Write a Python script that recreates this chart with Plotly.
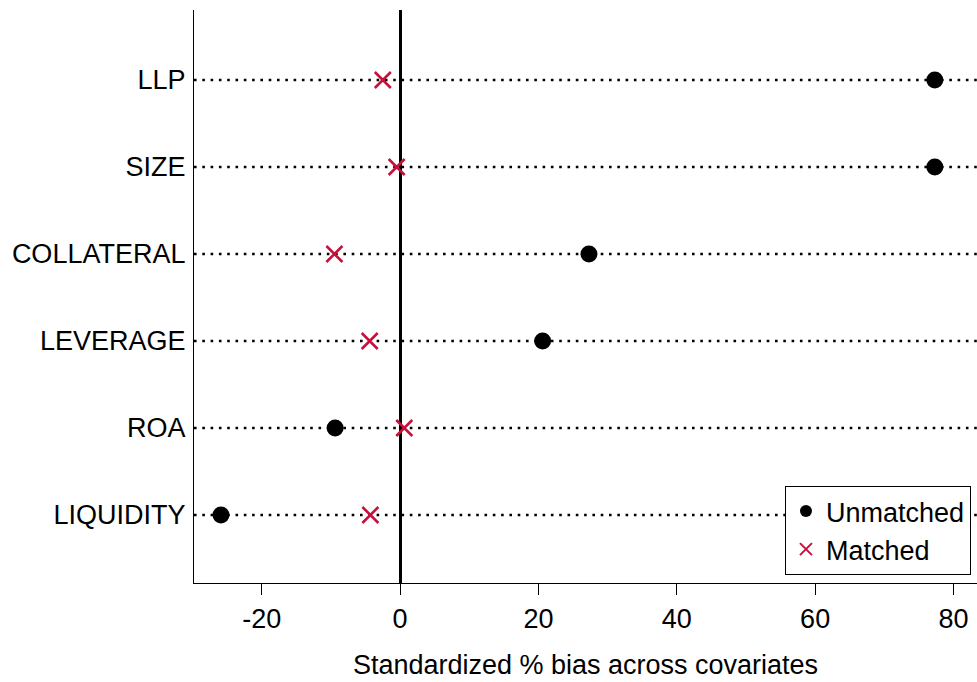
import plotly.graph_objects as go

covariates = ["LIQUIDITY", "ROA", "LEVERAGE", "COLLATERAL", "SIZE", "LLP"]
row_pos = [1, 2, 3, 4, 5, 6]
unmatched = [-25.9, -9.4, 20.6, 27.3, 77.3, 77.3]
matched = [-4.3, 0.6, -4.4, -9.5, -0.5, -2.5]
x_ticks = [-20, 0, 20, 40, 60, 80]
x_tick_labels = ["-20", "0", "20", "40", "60", "80"]

FONT = "Liberation Sans, Arial, sans-serif"
RED = "#C8103C"

fig = go.Figure()

for y in row_pos:
    fig.add_shape(type="line", xref="paper", x0=0, x1=1, yref="y", y0=y, y1=y,
                  line=dict(color="black", width=2.6, dash="2.6px,5.7px"), layer="below")

fig.add_trace(go.Scatter(x=unmatched, y=row_pos, mode="markers", name="Unmatched",
                         marker=dict(symbol="circle", size=17, color="black")))
fig.add_trace(go.Scatter(x=matched, y=row_pos, mode="markers", name="Matched",
                         marker=dict(symbol="x-thin", size=16, color=RED,
                                     line=dict(color=RED, width=2.6))))

fig.update_layout(
    width=977, height=682,
    margin=dict(l=194, r=0, t=10, b=99),
    plot_bgcolor="white", paper_bgcolor="white",
    font=dict(family=FONT, size=27, color="black"),
    showlegend=True,
    legend=dict(x=0.9923, y=0.014, xanchor="right", yanchor="bottom",
                bordercolor="black", borderwidth=1, bgcolor="white",
                font=dict(size=27), itemsizing="constant", tracegroupgap=0),
    xaxis=dict(range=[-29.8, 83.4], tickvals=x_ticks, ticktext=x_tick_labels,
               showgrid=False,
               zeroline=True, zerolinecolor="black", zerolinewidth=2.6,
               showline=True, linecolor="black", linewidth=1.3,
               ticks="outside", ticklen=11, tickwidth=1.3, tickcolor="black",
               tickfont=dict(size=27),
               title=dict(text="Standardized % bias across covariates",
                          font=dict(size=27), standoff=22)),
    yaxis=dict(range=[0.218, 6.805], tickvals=row_pos, ticktext=covariates,
               showgrid=False, zeroline=False, showline=True, linecolor="black",
               linewidth=1.3, ticks="", ticklabelstandoff=2, tickfont=dict(size=27)),
)

fig.write_html("out.html", config={"displayModeBar": False},
               post_script="document.body.style.margin='0';document.body.style.overflow='hidden';")
